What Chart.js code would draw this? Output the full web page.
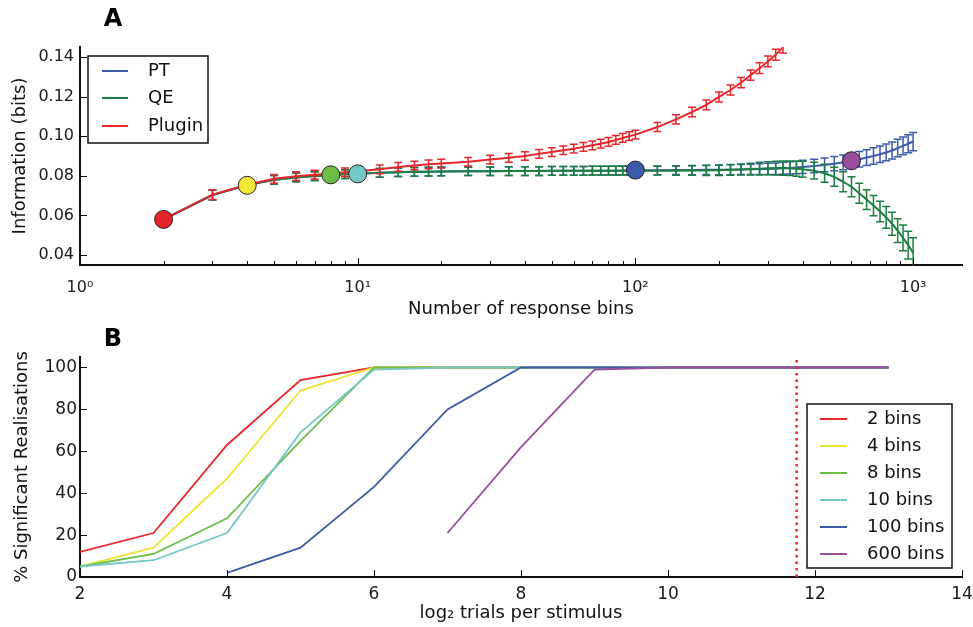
<!DOCTYPE html>
<html>
<head>
<meta charset="utf-8">
<script src="https://cdn.jsdelivr.net/npm/chart.js@4.4.0/dist/chart.umd.min.js"></script>
<style>
  html, body { margin: 0; padding: 0; background: #fff; }
  #wrap { position: relative; width: 973px; height: 627px; }
  canvas { position: absolute; left: 0; }
  #infoChart { top: 0; }
  #sigChart { top: 320px; }
</style>
</head>
<body>
<div id="wrap">
  <canvas id="infoChart" width="973" height="320"></canvas>
  <canvas id="sigChart" width="973" height="307"></canvas>
</div>
<script>
// ---- panel A: information vs number of response bins ----
const responseBins = [2, 3, 4, 5, 6, 7, 8, 9, 10, 12, 14, 16, 18, 20,
  25, 30, 35, 40, 45, 50, 55, 60, 65, 70, 75, 80, 85, 90, 95, 100,
  120, 140, 160, 180, 200, 220, 240, 260, 280, 300, 320, 340, 360, 380, 400,
  440, 480, 520, 560, 600, 640, 680, 720, 760, 800, 840, 880, 920, 960, 1000];

const ptInfo = [0.0580, 0.0703, 0.0753, 0.0780, 0.0792, 0.0799, 0.0804, 0.0808, 0.0811,
  0.0815, 0.0818, 0.0820, 0.0821, 0.0822,
  0.0823, 0.0823, 0.0824, 0.0824, 0.0824, 0.0825, 0.0825, 0.0825, 0.0825, 0.0826, 0.0826, 0.0826, 0.0826, 0.0827, 0.0827, 0.0828,
  0.0828, 0.0829, 0.0829, 0.0830, 0.0830, 0.0831, 0.0832, 0.0833, 0.0834, 0.0835, 0.0836, 0.0838, 0.0840, 0.0842, 0.0845,
  0.0849, 0.0855, 0.0861, 0.0868, 0.0876, 0.0884, 0.0892, 0.0900, 0.0909, 0.0918, 0.0928, 0.0940, 0.0951, 0.0962, 0.0973];
const ptErr = [0.0015, 0.0025, 0.0022, 0.0022, 0.0022, 0.0022, 0.0022, 0.0022, 0.0022,
  0.0022, 0.0022, 0.0022, 0.0022, 0.0022,
  0.0022, 0.0022, 0.0022, 0.0022, 0.0022, 0.0022, 0.0022, 0.0022, 0.0022, 0.0022, 0.0022, 0.0022, 0.0022, 0.0022, 0.0022, 0.0022,
  0.0022, 0.0022, 0.0023, 0.0023, 0.0024, 0.0025, 0.0025, 0.0026, 0.0027, 0.0028, 0.0029, 0.0030, 0.0031, 0.0032, 0.0033,
  0.0034, 0.0035, 0.0036, 0.0037, 0.0038, 0.0039, 0.0040, 0.0041, 0.0042, 0.0042, 0.0043, 0.0044, 0.0045, 0.0045, 0.0046];

const qeInfo = [0.0580, 0.0703, 0.0753, 0.0780, 0.0792, 0.0799, 0.0804, 0.0808, 0.0811,
  0.0815, 0.0818, 0.0820, 0.0821, 0.0822,
  0.0823, 0.0823, 0.0824, 0.0824, 0.0824, 0.0825, 0.0825, 0.0825, 0.0825, 0.0826, 0.0826, 0.0826, 0.0826, 0.0826, 0.0826, 0.0826,
  0.0826, 0.0826, 0.0827, 0.0827, 0.0828, 0.0830, 0.0832, 0.0834, 0.0836, 0.0838, 0.0839, 0.0839, 0.0838, 0.0836, 0.0833,
  0.0826, 0.0813, 0.0795, 0.0770, 0.0745, 0.0712, 0.0680, 0.0650, 0.0620, 0.0590, 0.0558, 0.0523, 0.0487, 0.0450, 0.0412];
const qeErr = [0.0015, 0.0025, 0.0022, 0.0022, 0.0022, 0.0022, 0.0022, 0.0022, 0.0022,
  0.0022, 0.0022, 0.0022, 0.0022, 0.0022,
  0.0022, 0.0022, 0.0022, 0.0022, 0.0022, 0.0022, 0.0022, 0.0022, 0.0022, 0.0022, 0.0022, 0.0022, 0.0022, 0.0022, 0.0022, 0.0022,
  0.0022, 0.0023, 0.0024, 0.0025, 0.0026, 0.0027, 0.0028, 0.0030, 0.0032, 0.0033, 0.0035, 0.0036, 0.0037, 0.0038, 0.0040,
  0.0042, 0.0045, 0.0048, 0.0050, 0.0050, 0.0050, 0.0050, 0.0051, 0.0052, 0.0055, 0.0058, 0.0060, 0.0065, 0.0070, 0.0075];

const pluginInfo = [0.0580, 0.0705, 0.0755, 0.0785, 0.0798, 0.0806, 0.0812, 0.0818, 0.0823,
  0.0833, 0.0845, 0.0852, 0.0858, 0.0862,
  0.0871, 0.0882, 0.0891, 0.0900, 0.0911, 0.0920, 0.0929, 0.0937, 0.0946, 0.0954, 0.0962, 0.0971, 0.0981, 0.0991, 0.1000, 0.1008,
  0.1046, 0.1085, 0.1122, 0.1158, 0.1198, 0.1233, 0.1270, 0.1308, 0.1343, 0.1377, 0.1411, 0.1448, null, null, null,
  null, null, null, null, null, null, null, null, null, null, null, null, null, null, null];
const pluginErr = [0.0015, 0.0025, 0.0022, 0.0022, 0.0022, 0.0022, 0.0022, 0.0022, 0.0022,
  0.0022, 0.0022, 0.0022, 0.0022, 0.0022,
  0.0022, 0.0022, 0.0022, 0.0022, 0.0022, 0.0022, 0.0022, 0.0022, 0.0022, 0.0022, 0.0022, 0.0022, 0.0022, 0.0022, 0.0022, 0.0022,
  0.0023, 0.0023, 0.0024, 0.0024, 0.0025, 0.0025, 0.0026, 0.0026, 0.0027, 0.0027, 0.0028, 0.0028, null, null, null,
  null, null, null, null, null, null, null, null, null, null, null, null, null, null, null];

const markerBins = [2, 4, 8, 10, 100, 600];
const markerInfo = [0.0580, 0.0752, 0.0805, 0.0810, 0.0829, 0.0876];
const markerColors = ["#e3242b", "#f4e839", "#6cbd45", "#74c8c8", "#3d5aa8", "#994d9e"];

const infoTicks = [0.04, 0.06, 0.08, 0.10, 0.12, 0.14];
const binTicks = [1, 10, 100, 1000];
const binTickLabels = ["10\u2070", "10\u00b9", "10\u00b2", "10\u00b3"];

// ---- panel B: % significant realisations vs log2 trials ----
const trialsLog2 = [2, 3, 4, 5, 6, 7, 8, 9, 10, 11, 12, 13];
const sig2bins = [12, 21, 63, 94, 100, 100, 100, 100, 100, 100, 100, 100];
const sig4bins = [5, 14, 47, 89, 100, 100, 100, 100, 100, 100, 100, 100];
const sig8bins = [5, 11, 28, 65, 100, 100, 100, 100, 100, 100, 100, 100];
const sig10bins = [5, 8, 21, 69, 99, 100, 100, 100, 100, 100, 100, 100];
const sig100bins = [null, null, 2, 14, 43, 80, 100, 100, 100, 100, 100, 100];
const sig600bins = [null, null, null, null, null, 21, 62, 99, 100, 100, 100, 100];
const sigLabels = ["2 bins", "4 bins", "8 bins", "10 bins", "100 bins", "600 bins"];
const sigColors = ["#e8262b", "#ede43a", "#6cbd45", "#74c8c8", "#3d5aa8", "#9a4f9f"];
const trialTicks = [2, 4, 6, 8, 10, 12, 14];
const sigTicks = [0, 20, 40, 60, 80, 100];
const dataLimitLog2 = 11.75;

const FONT = "'DejaVu Sans', sans-serif";
Chart.defaults.font.family = FONT;
Chart.defaults.color = "#1a1a1a";

function series(xs, ys, errs) {
  const data = [];
  const errors = [];
  xs.forEach((x, i) => {
    if (ys[i] === null) return;
    data.push({ x: x, y: ys[i] });
    errors.push(errs ? errs[i] : null);
  });
  return { data, errors };
}

// keep the plot box fixed, whatever the tick labels want
function fixBox(size) {
  return (s) => {
    if (s.isHorizontal()) s.height = size; else s.width = size;
    s.paddingLeft = 0;
    s.paddingRight = 0;
    s.paddingTop = 0;
    s.paddingBottom = 0;
  };
}

// error bars drawn right after their own dataset so layering follows the lines
const errorBars = {
  id: "errorBars",
  afterDatasetDraw(chart, args) {
    const ds = chart.data.datasets[args.index];
    if (!ds.errors) return;
    const { ctx, chartArea, scales } = chart;
    ctx.save();
    ctx.beginPath();
    ctx.rect(chartArea.left, chartArea.top, chartArea.right - chartArea.left, chartArea.bottom - chartArea.top);
    ctx.clip();
    ctx.strokeStyle = ds.borderColor;
    ctx.lineWidth = 1.5;
    ds.data.forEach((p, i) => {
      const e = ds.errors[i];
      if (!e) return;
      const x = scales.x.getPixelForValue(p.x);
      const y1 = scales.y.getPixelForValue(p.y - e);
      const y2 = scales.y.getPixelForValue(p.y + e);
      ctx.beginPath();
      ctx.moveTo(x, y1); ctx.lineTo(x, y2);
      ctx.moveTo(x - 4, y1); ctx.lineTo(x + 4, y1);
      ctx.moveTo(x - 4, y2); ctx.lineTo(x + 4, y2);
      ctx.stroke();
    });
    ctx.restore();
  }
};

// matplotlib style ticks pointing into the plot
const inwardTicks = {
  id: "inwardTicks",
  afterDatasetsDraw(chart) {
    const { ctx, chartArea, scales } = chart;
    const xs = scales.x, ys = scales.y;
    ctx.save();
    ctx.strokeStyle = "#111";
    ctx.lineWidth = 1;
    ctx.beginPath();
    xs.ticks.forEach(t => {
      const px = Math.round(xs.getPixelForValue(t.value)) + 0.5;
      ctx.moveTo(px, chartArea.bottom); ctx.lineTo(px, chartArea.bottom - 7);
    });
    if (xs.type === "logarithmic") {
      for (let d = 1; d < xs.max; d *= 10) {
        for (let k = 2; k <= 9; k++) {
          if (k * d > xs.max) break;
          const px = Math.round(xs.getPixelForValue(k * d)) + 0.5;
          ctx.moveTo(px, chartArea.bottom); ctx.lineTo(px, chartArea.bottom - 4);
        }
      }
    }
    ys.ticks.forEach(t => {
      const py = Math.round(ys.getPixelForValue(t.value)) + 0.5;
      ctx.moveTo(chartArea.left, py); ctx.lineTo(chartArea.left + 7, py);
    });
    ctx.stroke();
    ctx.restore();
  }
};

const boxLegend = {
  id: "boxLegend",
  afterDraw(chart, args, opts) {
    if (!opts.entries) return;
    const { ctx } = chart;
    const [bx, by, bw, bh] = opts.box;
    ctx.save();
    ctx.fillStyle = "#fff";
    ctx.fillRect(bx, by, bw, bh);
    ctx.strokeStyle = "#111";
    ctx.lineWidth = 1.5;
    ctx.strokeRect(bx, by, bw, bh);
    ctx.font = opts.fontSize + "px " + FONT;
    ctx.textBaseline = "middle";
    ctx.textAlign = "left";
    opts.entries.forEach((label, i) => {
      const ds = chart.data.datasets.find(d => d.label === label);
      const y = opts.rowY[i];
      ctx.strokeStyle = ds.borderColor;
      ctx.lineWidth = 2;
      ctx.beginPath();
      ctx.moveTo(opts.lineX[0], y); ctx.lineTo(opts.lineX[1], y);
      ctx.stroke();
      ctx.fillStyle = "#111";
      ctx.fillText(label, opts.textX, y);
    });
    ctx.restore();
  }
};

const panelLetter = {
  id: "panelLetter",
  afterDraw(chart, args, opts) {
    if (!opts.text) return;
    const { ctx } = chart;
    ctx.save();
    ctx.font = "bold 24px " + FONT;
    ctx.fillStyle = "#000";
    ctx.textAlign = "center";
    ctx.textBaseline = "middle";
    ctx.fillText(opts.text, opts.x, opts.y);
    ctx.restore();
  }
};

Chart.register(errorBars, inwardTicks, boxLegend, panelLetter);

const pt = series(responseBins, ptInfo, ptErr);
const qe = series(responseBins, qeInfo, qeErr);
const plugin = series(responseBins, pluginInfo, pluginErr);
const markers = series(markerBins, markerInfo);

new Chart(document.getElementById("infoChart"), {
  type: "line",
  data: {
    datasets: [
      {
        label: "markers",
        data: markers.data,
        showLine: false,
        pointRadius: 9,
        pointBackgroundColor: markerColors,
        pointBorderColor: "#222",
        pointBorderWidth: 1,
      },
      {
        label: "Plugin",
        data: plugin.data,
        errors: plugin.errors,
        borderColor: "#e8262b",
        borderWidth: 2,
        pointRadius: 0,
      },
      {
        label: "QE",
        data: qe.data,
        errors: qe.errors,
        borderColor: "#1a7f40",
        borderWidth: 2,
        pointRadius: 0,
      },
      {
        label: "PT",
        data: pt.data,
        errors: pt.errors,
        borderColor: "#3d5aa8",
        borderWidth: 2,
        pointRadius: 0,
      },
    ],
  },
  options: {
    responsive: false,
    animation: false,
    devicePixelRatio: 1,
    layout: { padding: { left: 0, right: 11, top: 47, bottom: 0 } },
    plugins: {
      legend: { display: false },
      tooltip: { enabled: false },
      boxLegend: {
        entries: ["PT", "QE", "Plugin"],
        box: [88, 56, 120, 87],
        rowY: [71, 98, 126],
        lineX: [102, 128],
        textX: 148,
        fontSize: 18,
      },
      panelLetter: { text: "A", x: 113, y: 20 },
    },
    scales: {
      x: {
        type: "logarithmic",
        min: 1,
        max: 1500,
        afterFit: fixBox(55),
        afterBuildTicks: (s) => { s.ticks = binTicks.map(v => ({ value: v })); },
        ticks: {
          autoSkip: false,
          maxRotation: 0,
          padding: 13,
          font: { size: 16 },
          callback: (v) => binTickLabels[binTicks.indexOf(v)] || "",
        },
        grid: { display: false, drawTicks: false },
        border: { display: true, color: "#111", width: 2 },
        title: {
          display: true,
          text: "Number of response bins",
          font: { size: 18 },
          color: "#111",
          padding: { top: 0, bottom: 0 },
        },
      },
      y: {
        min: 0.035,
        max: 0.145,
        afterFit: fixBox(80),
        afterBuildTicks: (s) => { s.ticks = infoTicks.map(v => ({ value: v })); },
        ticks: {
          padding: 6,
          font: { size: 16 },
          callback: (v) => v.toFixed(2),
        },
        grid: { display: false, drawTicks: false },
        border: { display: true, color: "#111", width: 2 },
        title: {
          display: true,
          text: "Information (bits)",
          font: { size: 18 },
          color: "#111",
          padding: { top: 10, bottom: 0 },
        },
      },
    },
  },
});

const sigSeries = [sig2bins, sig4bins, sig8bins, sig10bins, sig100bins, sig600bins];
const sigDatasets = sigSeries.map((vals, i) => ({
  label: sigLabels[i],
  data: series(trialsLog2, vals).data,
  borderColor: sigColors[i],
  borderWidth: 1.8,
  pointRadius: 0,
  order: sigSeries.length - i,
}));
sigDatasets.push({
  label: "limit",
  data: [{ x: dataLimitLog2, y: 0 }, { x: dataLimitLog2, y: 104 }],
  borderColor: "#e8262b",
  borderWidth: 2.5,
  borderDash: [2.5, 4],
  pointRadius: 0,
  order: -1,
});

new Chart(document.getElementById("sigChart"), {
  type: "line",
  data: { datasets: sigDatasets },
  options: {
    responsive: false,
    animation: false,
    devicePixelRatio: 1,
    layout: { padding: { left: 0, right: 11, top: 37, bottom: 0 } },
    plugins: {
      legend: { display: false },
      tooltip: { enabled: false },
      boxLegend: {
        entries: sigLabels,
        box: [807, 84, 145, 164],
        rowY: [99, 126, 153, 180, 207, 234],
        lineX: [820, 847],
        textX: 867,
        fontSize: 18,
      },
      panelLetter: { text: "B", x: 113, y: 20 },
    },
    scales: {
      x: {
        type: "linear",
        min: 2,
        max: 14,
        afterFit: fixBox(50),
        afterBuildTicks: (s) => { s.ticks = trialTicks.map(v => ({ value: v })); },
        ticks: { autoSkip: false, maxRotation: 0, padding: 7, font: { size: 17 } },
        grid: { display: false, drawTicks: false },
        border: { display: true, color: "#111", width: 2 },
        title: {
          display: true,
          text: "log\u2082 trials per stimulus",
          font: { size: 18 },
          color: "#111",
          padding: { top: 0, bottom: 3 },
        },
      },
      y: {
        min: 0,
        max: 105,
        afterFit: fixBox(80),
        afterBuildTicks: (s) => { s.ticks = sigTicks.map(v => ({ value: v })); },
        ticks: { padding: 3, font: { size: 17 } },
        grid: { display: false, drawTicks: false },
        border: { display: true, color: "#111", width: 2 },
        title: {
          display: true,
          text: "% Significant Realisations",
          font: { size: 18 },
          color: "#111",
          padding: { top: 12, bottom: 0 },
        },
      },
    },
  },
});
</script>
</body>
</html>
